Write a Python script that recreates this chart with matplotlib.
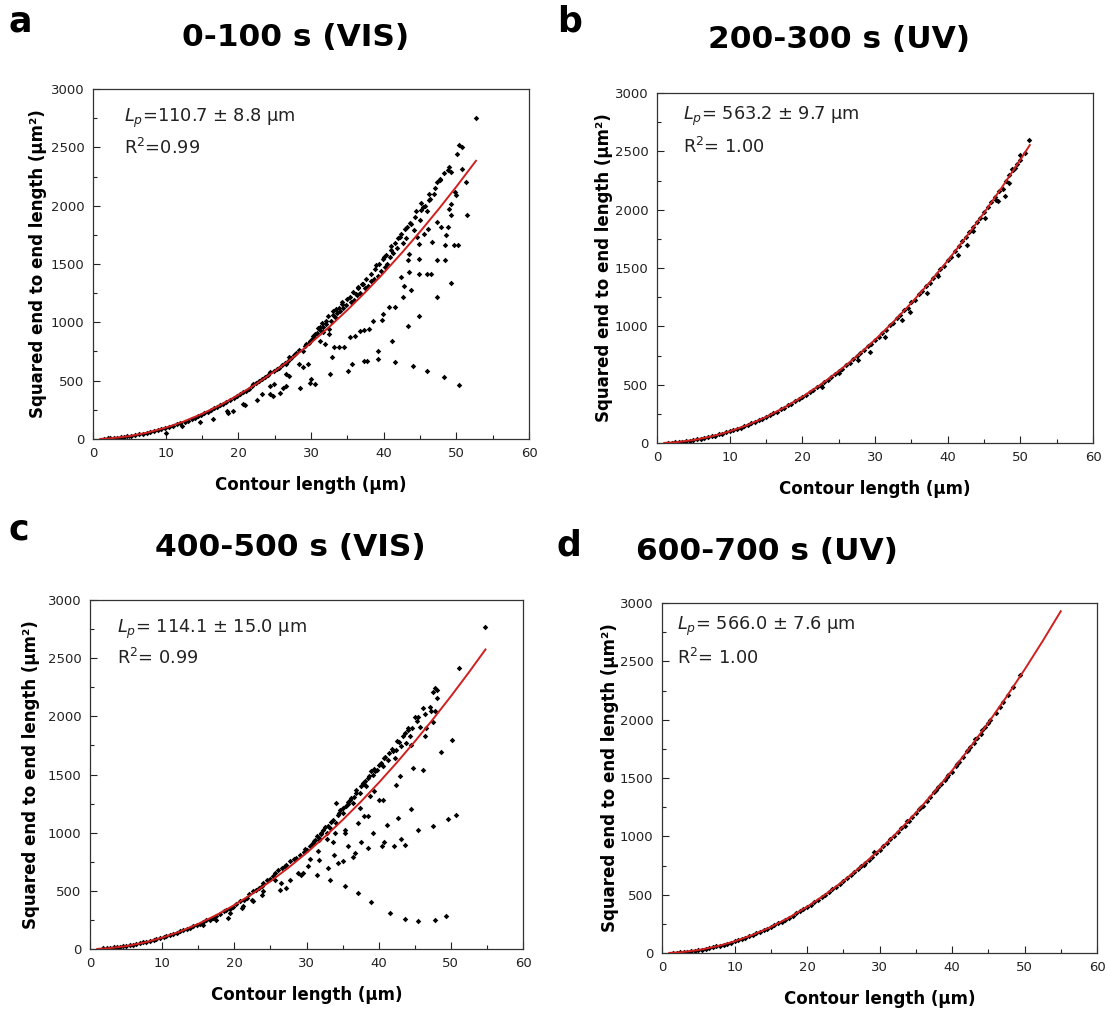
import matplotlib
matplotlib.use("Agg")
import matplotlib.pyplot as plt
from matplotlib.ticker import MultipleLocator

plt.rcParams['font.family'] = ['DejaVu Sans']
plt.rcParams['mathtext.fontset'] = 'dejavusans'

# ---------------- data ----------------
# Panel a: 0-100 s (VIS)
a_x = [1.5,2.0,2.4,2.9,3.3,3.8,4.2,4.7,5.2,5.8,6.3,6.9,7.4,7.9,8.4,8.9,9.4,9.9,10.1,10.5,
       11.0,11.5,12.0,12.2,12.6,13.1,13.6,14.0,14.4,14.7,14.9,15.3,15.8,16.2,16.5,16.6,17.1,17.5,17.9,18.3,
       18.4,18.6,18.9,19.3,19.4,19.8,20.2,20.6,20.7,20.9,21.1,21.5,21.9,22.0,22.4,22.5,22.8,23.2,23.3,23.7,
       24.1,24.4,24.4,24.8,24.9,24.4,24.9,25.3,25.6,25.8,26.0,26.1,26.4,26.6,26.6,26.6,26.8,27.0,27.0,27.3,
       27.7,28.0,28.4,28.4,28.5,28.9,28.9,29.2,29.3,29.6,29.7,29.9,29.9,30.0,30.1,30.4,30.6,30.8,31.2,31.2,
       31.6,31.7,31.9,32.1,32.3,32.5,32.5,32.6,32.8,32.9,33.2,33.3,33.6,33.9,34.0,34.4,34.6,34.8,35.1,35.3,
       35.3,35.5,35.7,35.9,36.0,36.3,36.7,36.8,37.1,37.3,37.3,37.4,37.7,37.9,38.0,38.3,38.5,38.7,39.2,39.2,
       39.2,39.6,39.8,39.9,39.9,40.2,40.5,40.8,40.9,41.2,41.3,41.5,41.5,41.8,42.2,42.4,42.6,42.7,42.8,43.1,
       43.3,43.4,43.5,43.5,43.8,43.8,44.0,44.2,44.6,44.8,44.8,44.9,44.9,45.0,45.4,45.6,45.9,46.0,46.0,46.1,
       46.4,46.5,46.7,46.9,47.4,47.4,47.4,47.4,47.7,47.9,48.3,48.5,48.5,48.6,48.8,48.9,49.0,49.2,49.2,49.3,
       49.3,49.7,49.8,49.9,50.1,50.2,50.3,50.4,50.8,50.8,51.3,51.4,52.7,
       30.5,31.0,33.0,34.2,36.5,38.9,40.0,41.0,42.0,43.2,44.5,45.2,46.2,36.2,33.8,31.5,
       30.3,31.3,32.0,33.0,33.5,34.3,35.0,35.8,36.4,37.0,37.6,38.2,38.8,39.4,40.3,41.0,41.6,42.4,
       43.0,43.6,44.3,45.1,45.7,46.3,47.0,47.8,48.3,49.0]
a_y = [3,5,6,8,11,14,17,22,27,33,39,46,54,60,70,78,86,95,55,104,
       112,125,134,110,148,158,172,182,196,146,205,222,234,248,169,262,276,292,303,318,
       241,226,335,241,352,368,388,298,400,292,412,428,452,470,480,332,495,384,512,528,
       548,384,570,370,585,456,470,602,612,398,630,441,650,456,556,642,668,699,542,690,
       722,735,760,642,441,613,756,795,814,642,820,842,484,510,860,872,470,905,842,930,
       914,960,814,985,1057,900,943,556,1010,699,785,1045,1080,785,1100,1120,785,1150,585,871,
       1215,1170,647,1190,885,1230,922,1255,1330,665,934,1290,665,1310,943,1350,1014,1375,756,685,
       1400,1440,1020,1072,1545,1470,1500,1129,1560,842,1590,656,1129,1640,1731,1387,1215,1680,1309,1720,
       1530,965,1430,1588,1278,1845,622,1790,1731,1416,1545,1057,1674,1880,1989,1760,1950,1416,585,1803,
       2060,1416,1688,2100,1215,1530,1860,2203,2218,1816,533,1536,1659,1745,2304,1816,1974,2017,2289,1338,
       1917,1659,2118,2089,2447,1659,464,2519,2318,2504,2203,1917,2753,
       900,955,1095,1175,1300,1490,1560,1650,1720,1820,1950,2020,2100,1240,1120,990,
       880,960,1010,1060,1110,1160,1200,1260,1290,1330,1370,1410,1460,1500,1580,1620,1680,1760,
       1800,1850,1900,1960,2000,2050,2150,2230,2280,2330]

# Panel b: 200-300 s (UV)
b_x = [1.5,2.0,2.5,3.0,3.5,4.0,4.5,5.0,5.5,6.0,6.5,7.0,7.5,8.0,8.5,9.0,9.5,10.0,10.5,11.0,
       11.5,12.0,12.5,13.0,13.5,14.0,14.5,15.0,15.5,16.0,16.5,17.0,17.5,18.0,18.5,19.0,19.5,20.0,20.5,21.0,
       21.5,22.0,22.5,22.7,23.0,23.5,24.0,24.5,25.0,25.0,25.5,26.0,26.5,27.0,27.5,27.7,28.0,28.5,29.0,29.3,
       29.5,30.0,30.5,31.0,31.4,31.5,32.0,32.5,33.0,33.5,33.7,34.0,34.5,34.8,35.0,35.5,36.0,36.5,37.0,37.1,
       37.5,38.0,38.5,38.7,39.0,39.5,40.0,40.5,41.0,41.4,41.5,42.0,42.6,42.5,43.0,43.5,43.5,44.0,44.5,45.0,
       45.1,45.5,46.0,46.5,46.7,46.9,47.0,47.6,47.9,48.0,48.5,48.5,48.8,49.0,49.2,49.5,50.0,50.0,50.6,51.2]
b_y = [2,4,7,9,12,17,20,25,31,36,42,50,56,63,73,80,91,99,111,119,
       132,144,154,169,180,196,207,224,236,255,268,288,301,323,336,359,373,398,410,437,
       452,480,497,481,524,540,570,588,596,618,638,668,688,720,742,711,775,795,830,783,
       852,887,912,947,912,972,1008,1032,1072,1098,1055,1137,1160,1127,1205,1230,1273,1300,1345,1285,
       1370,1418,1448,1428,1492,1520,1570,1598,1648,1614,1690,1728,1700,1768,1810,1814,1850,1895,1925,1980,
       1929,2020,2068,2110,2087,2073,2158,2173,2116,2250,2231,2295,2351,2340,2360,2390,2466,2430,2484,2597]

# Panel c: 400-500 s (VIS)
c_x = [1.8,2.3,2.8,3.3,3.8,4.2,4.6,5.0,5.5,6.0,6.4,6.9,7.4,7.8,8.3,8.8,9.2,9.7,10.2,10.6,
       11.1,11.5,12.0,12.5,12.9,13.4,13.8,14.3,14.8,15.2,15.7,15.7,16.1,16.6,17.1,17.5,17.5,18.0,18.5,18.9,
       19.1,19.4,19.4,19.8,20.3,20.8,21.0,21.2,21.3,21.7,22.1,22.4,22.6,22.6,23.0,23.4,23.8,23.8,24.0,24.0,
       24.5,24.9,25.3,25.6,25.6,26.1,26.3,26.5,26.6,27.0,27.2,27.2,27.7,27.7,28.2,28.6,28.8,29.1,29.3,29.5,
       29.6,30.0,30.2,30.5,30.5,30.9,31.4,31.4,31.6,31.7,31.8,31.8,32.3,32.8,32.8,33.0,33.2,33.3,33.7,33.7,
       33.8,34.0,34.1,34.1,34.4,34.6,35.1,35.1,35.3,35.3,35.4,35.5,35.8,36.0,36.4,36.4,36.7,36.9,37.1,37.1,
       37.4,37.4,37.5,37.8,37.9,38.3,38.5,38.5,38.5,38.8,38.9,39.0,39.2,39.2,39.4,39.7,40.0,40.1,40.4,40.6,
       40.6,40.8,41.1,41.3,41.5,41.6,42.0,42.1,42.2,42.4,42.4,42.7,43.0,43.1,43.1,43.6,43.6,43.6,43.8,44.1,
       44.3,44.5,44.5,44.8,45.0,45.4,45.4,45.4,45.7,46.1,46.1,46.4,46.6,47.3,47.5,47.5,47.5,47.8,47.8,47.8,
       48.1,48.1,48.7,49.3,49.6,50.1,50.7,51.1,54.7,
       31.0,32.0,33.0,34.5,35.8,36.6,38.0,39.5,40.8,42.6,44.0,
       29.8,30.7,31.2,32.0,32.6,33.4,34.3,35.0,35.7,36.2,36.8,37.6,38.1,38.7,39.4,40.3,40.9,41.8,
       42.8,43.4,44.6,45.3,46.4,47.1]
c_y = [6,8,11,13,16,19,24,27,33,37,42,49,57,62,70,78,86,94,103,112,
       122,128,137,152,160,172,182,195,209,212,209,232,245,252,266,252,282,298,324,338,
       266,309,348,362,389,409,352,367,420,440,475,424,409,495,505,522,467,545,567,495,
       596,600,625,653,596,681,510,567,695,712,724,524,753,596,770,782,653,810,638,653,
       832,853,710,882,773,910,968,638,839,767,953,933,1025,996,948,699,1040,590,1111,919,
       810,996,1082,1254,739,1197,1168,753,538,1025,996,1225,882,1283,1254,790,825,1369,1082,481,
       1340,1211,919,1426,1139,1397,1139,1469,865,1311,404,1526,1497,996,1354,1540,1277,1583,882,1569,
       1283,919,1062,1626,1683,309,1698,882,1640,1712,1411,1122,1483,1741,945,1855,896,261,1769,1884,
       1827,1755,1202,1560,1993,1998,1019,243,1912,2070,1540,1827,1898,2050,1955,1054,2213,2247,2050,252,
       2227,2156,1692,286,1117,1798,1151,2413,2766,
       925,990,1060,1170,1250,1310,1420,1530,1640,1790,1900,
       860,900,940,1000,1050,1090,1150,1210,1260,1300,1340,1400,1440,1490,1550,1600,1650,1720,
       1780,1830,1900,1960,2020,2080]

# Panel d: 600-700 s (UV)
d_x = [1.5,2.0,2.5,3.0,3.5,4.0,4.5,5.0,5.5,6.0,6.5,7.0,7.5,8.0,8.5,9.0,9.5,10.0,10.5,11.0,
       11.5,12.0,12.5,13.0,13.5,14.0,14.5,15.0,15.5,16.0,16.5,17.0,17.5,18.0,18.5,19.0,19.5,20.0,20.5,21.0,
       21.5,22.0,22.5,23.0,23.5,24.0,24.5,25.0,25.5,26.0,26.5,27.0,27.5,28.0,28.5,29.0,29.5,30.0,30.5,31.0,
       31.5,32.0,32.5,33.0,33.5,34.0,34.5,35.0,35.5,36.0,36.5,37.0,37.5,38.0,38.5,39.0,39.5,40.0,40.5,41.0,
       41.5,42.0,42.5,43.0,43.5,44.0,44.5,45.0,46.0,46.6,47.0,47.7,48.4,49.4,
       27.8,29.2,33.8,35.7,37.8,39.3,40.7,42.2,43.2,44.2,45.3]
d_y = [2,4,6,9,12,16,20,25,30,36,42,49,56,64,72,81,90,99,110,120,
       131,143,155,168,181,194,209,223,238,254,270,286,303,321,339,357,376,395,415,436,
       457,478,500,522,545,568,592,616,641,666,691,718,744,775,799,827,855,884,914,944,
       974,1005,1036,1068,1092,1133,1166,1200,1234,1262,1304,1340,1376,1420,1449,1487,1525,1555,1602,1641,
       1681,1730,1762,1803,1845,1878,1940,1972,2060,2112,2149,2212,2276,2380,
       752,862,1128,1248,1393,1508,1618,1744,1832,1910,2000]

# Fitted worm-like-chain curves
fit_x_a = [1,2.5,5,7.5,10,12.5,15,17.5,20,22.5,25,27.5,30,32.5,35,37.5,40,42.5,45,47.5,50,52.7]
fit_y_a = [1.0,6.2,24.6,55.0,97.1,150.5,215.2,290.7,377.0,473.6,580.5,697.3,823.9,960.0,1105.5,
           1260.1,1423.5,1595.7,1776.4,1965.4,2162.5,2384.3]
fit_x_b = [1,2.5,5,7.5,10,12.5,15,17.5,20,22.5,25,27.5,30,32.5,35,37.5,40,42.5,45,47.5,50,51.3]
fit_y_b = [1.0,6.2,24.9,56.0,99.4,155.1,223.0,303.1,395.3,499.6,615.9,744.1,884.2,1036.2,1200.0,
           1375.6,1562.8,1761.7,1972.1,2194.1,2427.6,2553.6]
fit_x_c = [1,2.5,5,7.5,10,12.5,15,17.5,20,22.5,25,27.5,30,32.5,35,37.5,40,42.5,45,47.5,50,52.5,54.8]
fit_y_c = [1.0,6.2,24.6,55.0,97.1,150.7,215.5,291.2,377.6,474.6,581.7,699.0,826.0,962.7,1108.8,
           1264.1,1428.3,1601.4,1783.1,1973.2,2171.6,2378.0,2574.9]
fit_x_d = [1,2.5,5,7.5,10,12.5,15,17.5,20,22.5,25,27.5,30,32.5,35,37.5,40,42.5,45,47.5,50,52.5,55.0]
fit_y_d = [1.0,6.2,24.9,56.0,99.4,155.1,223.0,303.1,395.3,499.6,615.9,744.1,884.3,1036.3,1200.1,
           1375.7,1563.0,1761.9,1972.4,2194.4,2428.0,2673.0,2929.4]

titles = ["0-100 s (VIS)", "200-300 s (UV)", "400-500 s (VIS)", "600-700 s (UV)"]
letters = ["a", "b", "c", "d"]
lp_text = [r"$L_p$=110.7 ± 8.8 μm", r"$L_p$= 563.2 ± 9.7 μm",
           r"$L_p$= 114.1 ± 15.0 μm", r"$L_p$= 566.0 ± 7.6 μm"]
r2_text = [r"R$^2$=0.99", r"R$^2$= 1.00", r"R$^2$= 0.99", r"R$^2$= 1.00"]

# ---------------- figure ----------------
W, H = 1107, 1010
fig = plt.figure(figsize=(W / 100, H / 100), dpi=100)

# axes boxes in pixel coords: left, right, top, bottom
boxes = [(93, 529, 89, 439), (657, 1093, 93, 443), (90, 523, 600, 949), (662, 1097, 603, 953)]
title_pos = [(296, 38), (839, 40), (290, 548), (767, 551)]
letter_pos = [(8, 22), (557, 22), (8, 530), (556, 546)]
text_pos = [(0.07, 0.917, 0.831), (0.06, 0.933, 0.845), (0.063, 0.917, 0.834), (0.034, 0.932, 0.843)]
ylab_x = [-0.105, -0.10, -0.115, -0.098]

series = [(a_x, a_y, fit_x_a, fit_y_a), (b_x, b_y, fit_x_b, fit_y_b),
          (c_x, c_y, fit_x_c, fit_y_c), (d_x, d_y, fit_x_d, fit_y_d)]

for i, (l, r, t, b) in enumerate(boxes):
    ax = fig.add_axes([l / W, 1 - b / H, (r - l) / W, (b - t) / H])
    sx, sy, fx, fy = series[i]
    ax.scatter(sx, sy, s=8, marker='D', color='black', linewidths=0, zorder=2)
    ax.plot(fx, fy, color='#d01f1f', lw=1.4, zorder=3)
    ax.set_xlim(0, 60)
    ax.set_ylim(0, 3000)
    ax.xaxis.set_major_locator(MultipleLocator(10))
    ax.xaxis.set_minor_locator(MultipleLocator(5))
    ax.yaxis.set_major_locator(MultipleLocator(500))
    ax.yaxis.set_minor_locator(MultipleLocator(250))
    ax.tick_params(which='both', direction='in', top=False, right=False,
                   labelsize=9.5, colors='#222222')
    ax.tick_params(which='major', length=5, width=0.8, pad=6)
    ax.tick_params(which='minor', length=3, width=0.8)
    for sp in ax.spines.values():
        sp.set_color('#333333')
        sp.set_linewidth(0.9)
    ax.set_xlabel("Contour length (μm)", fontsize=12, fontweight='bold')
    ax.set_ylabel("Squared end to end length (μm²)", fontsize=12, fontweight='bold')
    ax.xaxis.set_label_coords(0.5, -0.105)
    ax.yaxis.set_label_coords(ylab_x[i], 0.5)
    tx, ty1, ty2 = text_pos[i]
    ax.text(tx, ty1, lp_text[i], transform=ax.transAxes, fontsize=12.8, va='center', ha='left', color='#222222')
    ax.text(tx, ty2, r2_text[i], transform=ax.transAxes, fontsize=12.8, va='center', ha='left', color='#222222')

    px, py = title_pos[i]
    fig.text(px / W, 1 - py / H, titles[i], fontsize=22.5, fontweight='bold', ha='center', va='center')
    lx, ly = letter_pos[i]
    fig.text(lx / W, 1 - ly / H, letters[i], fontsize=25, fontweight='bold', ha='left', va='center')

fig.savefig("out.png", dpi=100, facecolor='white')
